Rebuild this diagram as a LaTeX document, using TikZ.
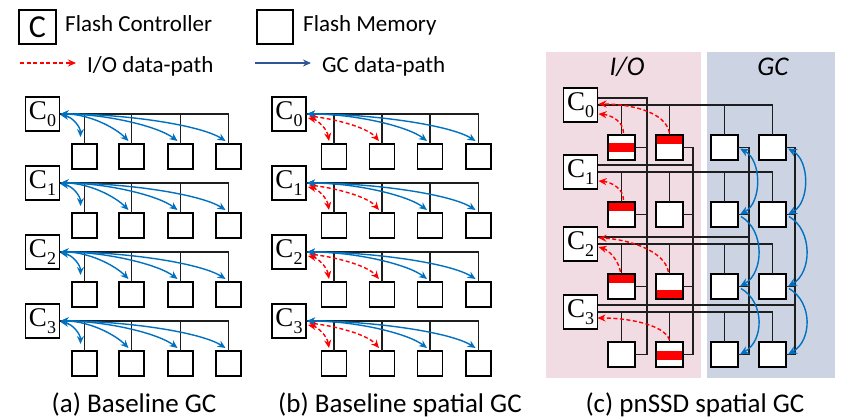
\documentclass[tikz,border=0pt]{standalone}
\usepackage{fontspec}
\newfontfamily\carl{Carlito}
\newfontfamily\ctrlf{Liberation Serif}
\usetikzlibrary{arrows.meta,calc}
\definecolor{iored}{RGB}{255,0,0}
\definecolor{gcblue}{RGB}{0,112,192}
\definecolor{lgblue}{RGB}{47,85,151}
\definecolor{iobg}{RGB}{242,220,228}
\definecolor{gcbg}{RGB}{204,212,228}
\definecolor{wirec}{RGB}{30,30,30}
\tikzset{
  boxline/.style={draw=black, line width=1.3pt},
  membox/.style={boxline, fill=white, minimum width=25pt, minimum height=25pt, inner sep=0pt, outer sep=0pt},
  cmembox/.style={membox, minimum width=27pt},
  ctrl/.style={boxline, fill=white, minimum width=34pt, minimum height=34pt, inner sep=0pt, outer sep=0pt, font=\ctrlf\fontsize{27}{27}\selectfont},
  wire/.style={draw=wirec, line width=1.3pt},
  tipstyle/.style={>={Stealth[length=8pt,width=7pt]}},
  bigtip/.style={>={Stealth[length=9pt,width=8pt]}},
  gcboth/.style={tipstyle, draw=gcblue, line width=1.4pt, <->},
  gcone/.style={tipstyle, draw=gcblue, line width=1.4pt, ->},
  ioboth/.style={tipstyle, draw=iored, line width=1.4pt, dash pattern=on 4pt off 2.5pt, <->},
  ioone/.style={tipstyle, draw=iored, line width=1.4pt, dash pattern=on 4pt off 2.5pt, ->},
  lgtext/.style={font=\carl\fontsize{23}{27}\selectfont, inner sep=0pt, anchor=base west},
  captext/.style={font=\carl\fontsize{27}{32}\selectfont, inner sep=0pt, anchor=base},
}
\newcommand{\ctl}[1]{C\raisebox{-0.28em}{\fontsize{18}{18}\selectfont #1}}
\begin{document}
\begin{tikzpicture}[x=1pt,y=-1pt]
\useasboundingbox (0,0) rectangle (841,419);
% ---------- backgrounds of panel (c)
\fill[iobg] (546,52) rectangle (701,378);
\fill[gcbg] (707,52) rectangle (835,378);
\node[anchor=base, inner sep=0pt, font=\carl\itshape\fontsize{27}{32}\selectfont] (iolbl) at (627,76) {I/O};
\node[anchor=base, inner sep=0pt, font=\carl\itshape\fontsize{27}{32}\selectfont] (gclbl) at (773,76) {GC};
% ---------- legend
\node[boxline, fill=white, minimum width=37pt, minimum height=34pt, inner sep=0pt, font=\carl\fontsize{32}{32}\selectfont] (lgC) at (37.5,27) {C};
\node[lgtext] (lgCt) at (65,32) {Flash Controller};
\node[membox, minimum width=36pt, minimum height=34pt] (lgM) at (275,27) {};
\node[lgtext] (lgMt) at (303,32) {Flash Memory};
\coordinate (lgIa) at (20,63);
\coordinate (lgIb) at (76,63);
\draw[ioone] (lgIa) -- (lgIb);
\node[lgtext] (lgIt) at (87,73) {I/O data-path};
\coordinate (lgGa) at (255,63);
\coordinate (lgGb) at (311,63);
\draw[tipstyle, draw=lgblue, line width=1.4pt, ->] (lgGa) -- (lgGb);
\node[lgtext] (lgGt) at (322,73) {GC data-path};
% ---------- panel (a)
\foreach \r/\cy in {0/114,1/183,2/252,3/321} {
  \node[ctrl] (aC\r) at (42.5,\cy) {\ctl{\r}};
  \foreach \k/\bx in {1/84.5,2/131.5,3/180.5,4/228.5}
    \node[membox] (a\r\k) at (\bx,\cy+42.5) {};
  \draw[wire] (aC\r.east) -| (a\r4.north);
  \foreach \k in {1,2,3} \draw[wire] (aC\r.east -| a\r\k.north) -- (a\r\k.north);
  \draw[gcboth] ($(aC\r.east)+(1,1)$) .. controls +(12,2) and +(0,-10) .. ($(a\r1.north)+(-4,-7)$);
  \foreach \k/\ca/\cbx/\cby in {2/28/-14/-14, 3/45/-20/-15, 4/65/-25/-16}
    \draw[gcboth] ($(aC\r.east)+(1,0)$) .. controls +(\ca,0) and +(\cbx,\cby) .. ($(a\r\k.north)+(-3,-3)$);
}
\node[captext] (capa) at (134,413) {(a) Baseline GC};
% ---------- panel (b)
\foreach \r/\cy in {0/114,1/183,2/252,3/321} {
  \node[ctrl] (bC\r) at (289,\cy) {\ctl{\r}};
  \foreach \k/\bx in {1/334,2/382,3/430,4/478.5}
    \node[membox] (b\r\k) at (\bx,\cy+42.5) {};
  \draw[wire] (bC\r.east) -| (b\r4.north);
  \foreach \k in {1,2,3} \draw[wire] (bC\r.east -| b\r\k.north) -- (b\r\k.north);
  \draw[ioboth] ($(bC\r.east)+(2,4)$) .. controls +(10,2) and +(-2,-12) .. ($(b\r1.north)+(-5,-3)$);
  \draw[ioboth] ($(bC\r.east)+(3,2)$) .. controls +(25,3) and +(-12,-14) .. ($(b\r2.north)+(-3,-3)$);
  \draw[gcboth] ($(bC\r.east)+(1,0)$) .. controls +(48,0) and +(-20,-15) .. ($(b\r3.north)+(-3,-3)$);
  \draw[gcboth] ($(bC\r.east)+(1,0)$) .. controls +(65,0) and +(-25,-16) .. ($(b\r4.north)+(-3,-3)$);
}
\node[captext] (capb) at (400,413) {(b) Baseline spatial GC};
% ---------- panel (c)
\coordinate (v1) at (647,0);
\coordinate (v2) at (693,0);
\coordinate (v3) at (749,0);
\coordinate (v4) at (795,0);
\foreach \r/\cy in {0/105,1/172,2/244,3/312}
  \node[ctrl] (cC\r) at (580.5,\cy) {\ctl{\r}};
\foreach \r/\ry in {0/147.5,1/214.5,2/286.5,3/354.5}
  \foreach \k/\bx in {1/621.5,2/669.5,3/724.5,4/772.5}
    \node[cmembox] (c\r\k) at (\bx,\ry) {};
% red stripes
\foreach \n/\sa/\sb in {01/8/17, 02/0/9, 11/0/9, 21/0/9, 22/16/25, 32/9/18} {
  \fill[iored] ($(c\n.north west)+(0,\sa)$) rectangle ($(c\n.north east)+(0,\sb)$);
  \draw[boxline] (c\n.north west) rectangle (c\n.south east);
}
% channel buses
\foreach \r in {0,1,2,3} {
  \draw[wire] (cC\r.east) -| (c\r4.north);
  \foreach \k in {1,2,3} \draw[wire] (cC\r.east -| c\r\k.north) -- (c\r\k.north);
}
% way lines
\foreach \k in {1,2,3,4} {
  \draw[wire] (c0\k.east) -| (c3\k.east -| v\k) -- (c3\k.east);
  \foreach \r in {1,2} \draw[wire] (c\r\k.east) -- (c\r\k.east -| v\k);
}
\foreach \r/\k in {0/1,1/2,2/3,3/4}
  \draw[wire] ($(cC\r.east)+(0,-7)$) -| (c0\k.east -| v\k);
% I/O arrows
\draw[ioone] ($(c01.north)+(2,-2)$) .. controls +(0,-12) and +(12,1) .. ($(cC0.east)+(1,9)$);
\draw[ioone] ($(c02.north)+(0,-2)$) .. controls +(-4,-22) and +(30,0) .. ($(cC0.east)+(1,-1)$);
\draw[ioone] ($(c11.north)+(2,-2)$) .. controls +(0,-12) and +(12,1) .. ($(cC1.east)+(1,9)$);
\draw[ioone] ($(c21.north)+(-1,-2)$) .. controls +(-2,-12) and +(10,3) .. ($(cC2.east)+(1,3)$);
\draw[ioone] ($(c22.north)+(-1,-2)$) .. controls +(-4,-22) and +(28,1) .. ($(cC2.east)+(1,-6)$);
\draw[ioone] ($(c32.north)+(0,-2)$) .. controls +(-5,-15) and +(32,0) .. ($(cC3.east)+(0,6)$);
% GC arrows
\foreach \k in {3,4} {
  \draw[gcboth, bigtip] ($(c0\k.east)+(2,1)$) .. controls +(22,12) and +(22,-12) .. ($(c1\k.east)+(2,0)$);
  \draw[gcone, bigtip] ($(c1\k.east)+(3,2)$) .. controls +(24,14) and +(24,-14) .. ($(c2\k.east)+(2,0)$);
  \draw[gcone, bigtip] ($(c2\k.east)+(3,2)$) .. controls +(24,14) and +(24,-14) .. ($(c3\k.east)+(2,0)$);
}
\node[captext] (capc) at (695,413) {(c) pnSSD spatial GC};
\end{tikzpicture}
\end{document}
